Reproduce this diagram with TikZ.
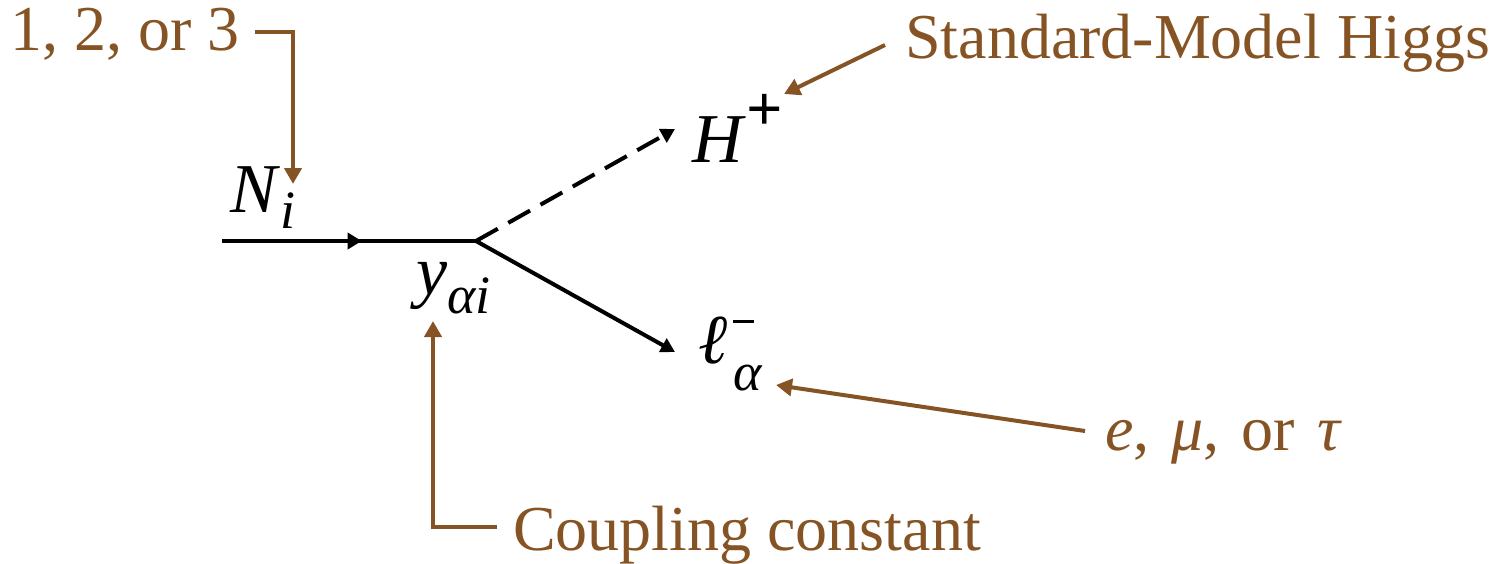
\documentclass[tikz,border=0pt]{standalone}
\usepackage{fontspec}
\setmainfont{Liberation Serif}
\usetikzlibrary{arrows.meta,decorations.markings}
\definecolor{brn}{RGB}{134,84,36}
\newcommand{\subsz}{\fontsize{54}{56}\selectfont}
\begin{document}
\begin{tikzpicture}[x=1pt,y=-1pt,
  lbl/.style={font=\fontsize{64}{70}\selectfont, inner sep=0pt, anchor=base west},
  mathlbl/.style={lbl, font=\fontsize{70}{74}\selectfont},
  note/.style={lbl, text=brn},
  fermion/.style={line width=4pt, draw=black},
  blacktip/.style={-{Triangle[length=14pt,width=15pt]}},
  scalar/.style={fermion, dash pattern=on 25pt off 12pt, blacktip},
  pointer/.style={line width=4pt, draw=brn, -{Triangle[length=16pt,width=17pt]}}]
\useasboundingbox (0,0) rectangle (1495,563);

% labels
\node[note] (one) at (10,50) {1, 2, or 3};
\node[note] (smh) at (905,58) {Standard-Model Higgs};
\node[note] (emt) at (1105,450) {\textit{e},\hspace{6pt} \textit{μ},\hspace{6pt} or\hspace{6pt} \textit{τ}};
\node[note] (cpl) at (513,550) {Coupling constant};

\node[mathlbl] (ni) at (230,212) {\textit{N}\raisebox{-16pt}{\subsz\textit{i}}};
\node[mathlbl] (yai) at (416,294) {\textit{y}\raisebox{-19pt}{\subsz\textit{αi}}};
\node[mathlbl] (hp) at (692,162) {\textit{H}\hspace{1pt}\raisebox{32pt}{\fontsize{64}{66}\selectfont\bfseries +}};
\node[mathlbl] (lep) at (698,363) {\textit{ℓ}\hspace{6pt}\rlap{\raisebox{40pt}{\rule{21pt}{3.5pt}}}\raisebox{-27pt}{\subsz\textit{α}}};

% diagram lines
\coordinate (in) at (222,241);
\coordinate (v) at (476,241);
\coordinate (hend) at (675,129);
\coordinate (lend) at (675,352);
\draw[fermion, postaction={decorate},
  decoration={markings, mark=at position 0.55 with {\arrow{Triangle[length=14pt,width=16pt]}}}]
  (in) -- (v);
\draw[scalar] (v) -- (hend);
\draw[fermion, blacktip] (v) -- (lend);

% annotation pointers
\coordinate (p1a) at (255,32);
\coordinate (p1b) at (293,184);
\draw[pointer] (p1a) -| (p1b);
\coordinate (p2a) at (885,45);
\coordinate (p2b) at (784,94);
\draw[pointer] (p2a) -- (p2b);
\coordinate (p3a) at (1085,431);
\coordinate (p3b) at (776,385);
\draw[pointer] (p3a) -- (p3b);
\coordinate (p4a) at (497,527);
\coordinate (p4b) at (433,321);
\draw[pointer] (p4a) -| (p4b);
\end{tikzpicture}
\end{document}
